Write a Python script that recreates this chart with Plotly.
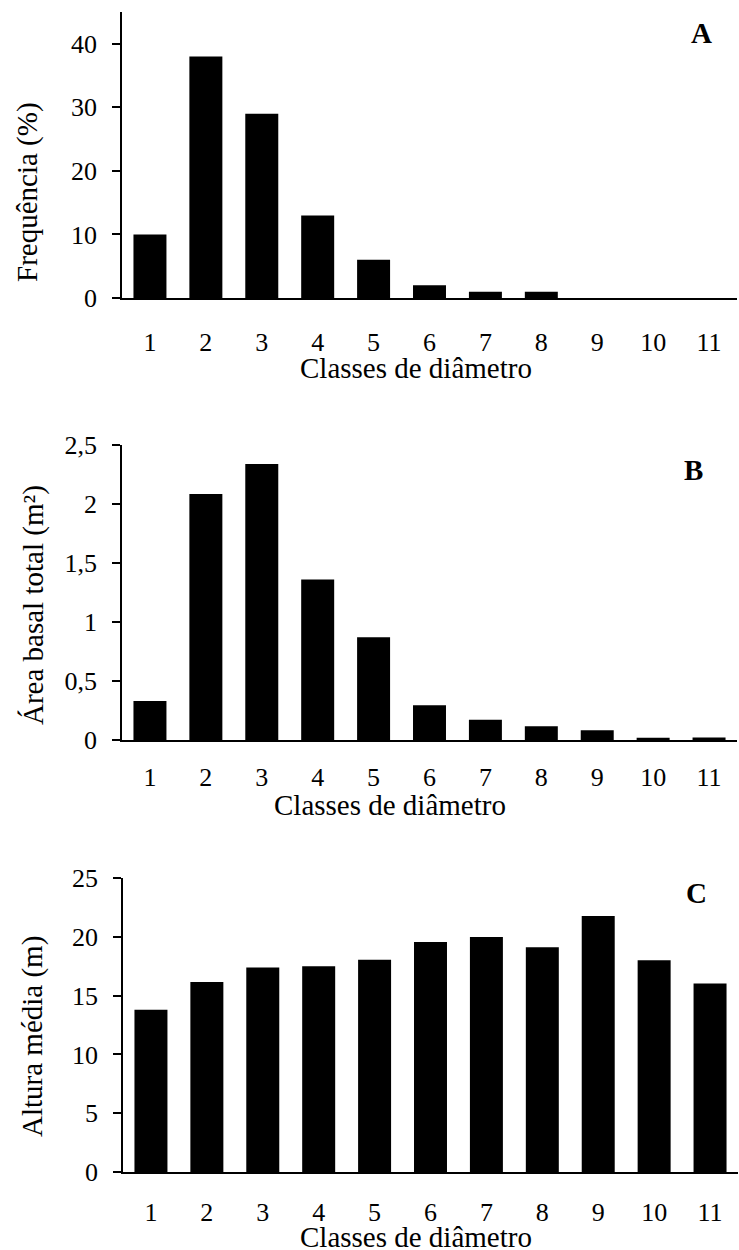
import plotly.graph_objects as go

# Diameter classes shared by the three panels
classes = [1, 2, 3, 4, 5, 6, 7, 8, 9, 10, 11]
class_labels = ["1", "2", "3", "4", "5", "6", "7", "8", "9", "10", "11"]

# A: frequency per class (%)
frequencia = [10, 38, 29, 13, 6, 2, 1, 1, 0, 0, 0]
# B: total basal area per class (m²)
area_basal = [0.33, 2.085, 2.34, 1.36, 0.87, 0.295, 0.172, 0.116, 0.082, 0.02, 0.022]
# C: mean height per class (m)
altura_media = [13.8, 16.15, 17.4, 17.5, 18.05, 19.55, 19.98, 19.12, 21.77, 18.0, 16.02]

W, H = 739, 1250
FONT = "Liberation Serif, Times New Roman, serif"


def px_x(x):
    return x / W


def px_y(y):
    return 1 - y / H


fig = go.Figure()

panels = [
    dict(vals=frequencia, yr=[0, 45], yt=[0, 10, 20, 30, 40], top=12, bot=298, left=122, right=737,
         ytitle="Frequência (%)", letter="A", lpos=(701, 33), xtpos=(416, 368), ytpos=(28, 192), xstand=20),
    dict(vals=area_basal, yr=[0, 2.5], yt=[0, 0.5, 1, 1.5, 2, 2.5], top=445, bot=740, left=122, right=737,
         ytitle="Área basal total (m²)", letter="B", lpos=(693, 470), xtpos=(390, 805), ytpos=(33, 605), xstand=13),
    dict(vals=altura_media, yr=[0, 25], yt=[0, 5, 10, 15, 20, 25], top=878, bot=1172, left=123, right=738,
         ytitle="Altura média (m)", letter="C", lpos=(696, 893), xtpos=(416, 1237), ytpos=(32, 1037), xstand=16),
]

annotations = []
for i, p in enumerate(panels, start=1):
    xa = "x" if i == 1 else f"x{i}"
    ya = "y" if i == 1 else f"y{i}"
    fig.add_trace(go.Bar(
        x=classes, y=p["vals"], xaxis=xa, yaxis=ya,
        marker=dict(color="black", line=dict(width=0)),
        showlegend=False, hoverinfo="x+y",
    ))
    xkey = "xaxis" if i == 1 else f"xaxis{i}"
    ykey = "yaxis" if i == 1 else f"yaxis{i}"
    fig.update_layout({
        xkey: dict(
            domain=[px_x(p["left"]), px_x(p["right"])],
            anchor=ya, range=[0.5, 11.5], automargin=False,
            tickmode="array", tickvals=classes, ticktext=class_labels,
            showline=True, linecolor="black", linewidth=1.5,
            ticks="", showgrid=False, zeroline=False,
            tickfont=dict(family=FONT, size=26, color="black"),
            ticklabelstandoff=p["xstand"],
        ),
        ykey: dict(
            domain=[px_y(p["bot"]), px_y(p["top"])],
            anchor=xa, range=p["yr"], automargin=False,
            tickmode="array", tickvals=p["yt"],
            showline=True, linecolor="black", linewidth=1.5,
            ticks="outside", ticklen=8, tickwidth=1.5, tickcolor="black",
            showgrid=False, zeroline=False,
            tickfont=dict(family=FONT, size=26, color="black"),
            ticklabelstandoff=10,
        ),
    })
    annotations.append(dict(
        text="Classes de diâmetro", xref="paper", yref="paper",
        x=px_x(p["xtpos"][0]), y=px_y(p["xtpos"][1]),
        xanchor="center", yanchor="middle", showarrow=False,
        font=dict(family=FONT, size=29, color="black"),
    ))
    annotations.append(dict(
        text=p["ytitle"], xref="paper", yref="paper",
        x=px_x(p["ytpos"][0]), y=px_y(p["ytpos"][1]),
        xanchor="center", yanchor="middle", textangle=-90, showarrow=False,
        font=dict(family=FONT, size=29, color="black"),
    ))
    annotations.append(dict(
        text=f"<b>{p['letter']}</b>", xref="paper", yref="paper",
        x=px_x(p["lpos"][0]), y=px_y(p["lpos"][1]),
        xanchor="center", yanchor="middle", showarrow=False,
        font=dict(family=FONT, size=29, color="black"),
    ))

fig.update_layout(
    width=W, height=H,
    margin=dict(l=0, r=0, t=0, b=0),
    paper_bgcolor="white", plot_bgcolor="white",
    bargap=0.41,
    separators=",.",
    annotations=annotations,
)

fig.write_html("out.html")
